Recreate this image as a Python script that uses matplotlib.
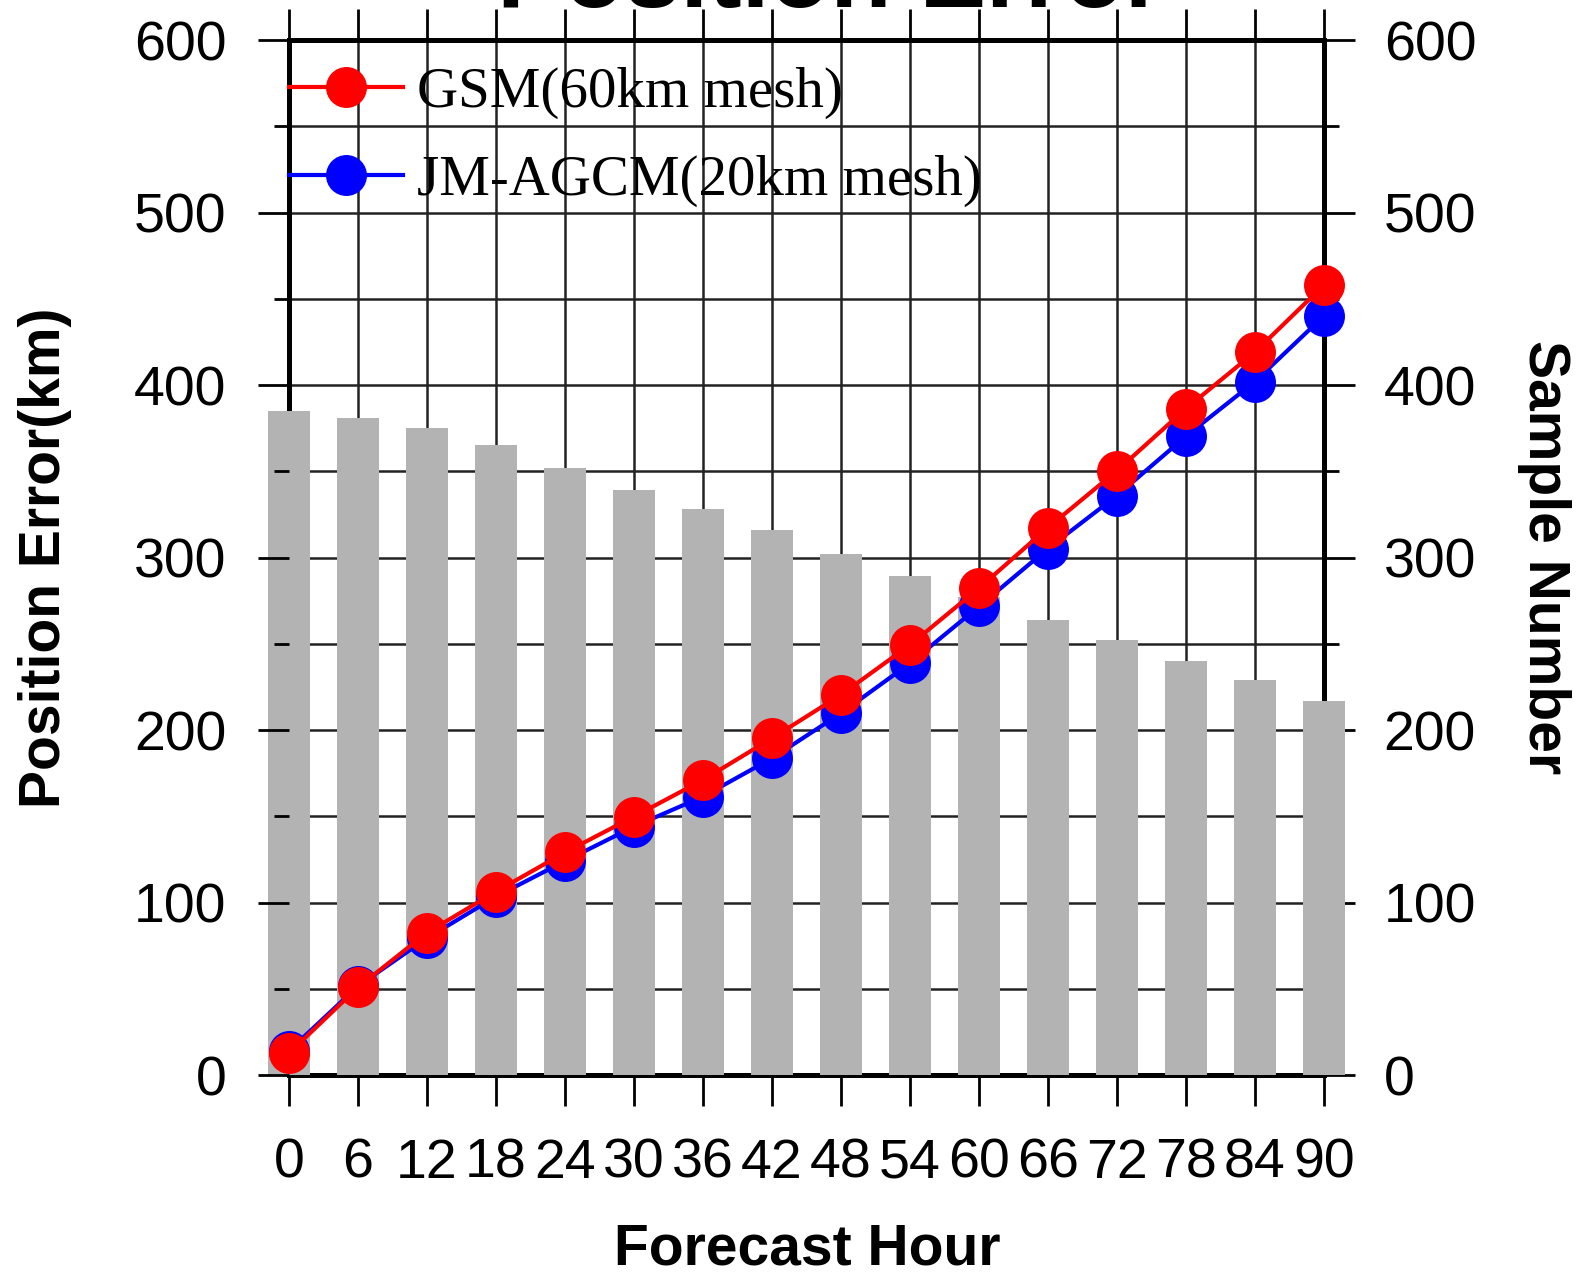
import matplotlib
matplotlib.use("Agg")
import matplotlib.pyplot as plt
from matplotlib.font_manager import FontProperties

# forecast hours on the x axis
hours = [0, 6, 12, 18, 24, 30, 36, 42, 48, 54, 60, 66, 72, 78, 84, 90]

# position error (km)
gsm_err = [12.6, 50.8, 82.5, 106.3, 129.0, 149.8, 171.0, 195.2,
           220.4, 249.3, 282.2, 317.3, 350.3, 386.3, 419.1, 457.9]
agcm_err = [14.0, 51.5, 79.3, 103.4, 124.0, 144.0, 161.4, 183.6,
            209.7, 238.7, 271.6, 305.2, 335.9, 370.3, 402.0, 440.1]

# sample number (right axis, grey bars)
samples = [385, 381, 375, 365, 352, 339, 328, 316,
           302, 289, 277, 264, 252, 240, 229, 217]

labels = ["GSM(60km mesh)", "JM-AGCM(20km mesh)"]

plt.rcParams["font.family"] = "Liberation Sans"

fig = plt.figure(figsize=(15.78, 12.74), dpi=100)
ax = fig.add_axes([0.1831, 0.1562, 0.6559, 0.8124])
ax2 = ax.twinx()
ax.set_zorder(ax2.get_zorder() + 1)
ax.patch.set_visible(False)

# ── bars + grid + frame live on the right-hand axes ──────────────────────────
ax2.xaxis.set_visible(True)
ax2.set_axisbelow(True)
ax2.bar(hours, samples, width=3.6, color="#b3b3b3", zorder=3, clip_on=False)
ax2.grid(True, which="major", color="#222222", linewidth=1.8)
ax2.set_yticks(range(0, 601, 100))
ax2.set_yticks(range(50, 600, 100), minor=True)
ax2.grid(True, which="minor", axis="y", color="#222222", linewidth=1.8)
ax2.tick_params(axis="x", which="both", bottom=False, top=False,
                labelbottom=False, labeltop=False)
ax2.tick_params(axis="y", which="major", direction="out", length=22, width=2,
                labelsize=40, pad=21)
ax2.tick_params(axis="y", which="minor", direction="out", length=11, width=2)
for sp in ax2.spines.values():
    sp.set_linewidth(3.6)
    sp.set_color("black")
ax2.set_ylim(0, 600)

# ── error curves on the left axes ────────────────────────────────────────────
line_b, = ax.plot(hours, agcm_err, color="blue", lw=3, marker="o", ms=29.5,
                  mew=0, zorder=4, clip_on=False, label=labels[1])
line_r, = ax.plot(hours, gsm_err, color="red", lw=3, marker="o", ms=29.5,
                  mew=0, zorder=5, clip_on=False, label=labels[0])

ax.set_xlim(0, 90)
ax.set_ylim(0, 600)
ax.set_xticks(hours)
ax.set_yticks(range(0, 601, 100))
ax.set_yticks(range(50, 600, 100), minor=True)
ax.tick_params(axis="x", which="major", direction="out", length=22, width=2,
               top=True, bottom=True, labelsize=40, pad=23)
ax.tick_params(axis="y", which="major", direction="out", length=22, width=2,
               labelsize=40, pad=23)
ax.tick_params(axis="y", which="minor", direction="out", length=11, width=2)
for sp in ax.spines.values():
    sp.set_visible(False)

ax.legend(handles=[line_r, line_b], loc="upper left",
          bbox_to_anchor=(0, 1 - 27 / 1035), frameon=False,
          borderaxespad=0, borderpad=0, handlelength=2.0, handletextpad=0.25,
          labelspacing=0.62, numpoints=1,
          prop=FontProperties(family="Liberation Serif", size=41))

ax.set_xlabel("Forecast Hour", fontsize=41, fontweight="bold", va="center")
ax.xaxis.set_label_coords(0.5005, -0.169)
ax.set_ylabel("Position Error(km)", fontsize=41, fontweight="bold", va="center")
ax.yaxis.set_label_coords(-0.236, 0.5)
ax2.set_ylabel("Sample Number", fontsize=41, fontweight="bold",
               rotation=270, va="center")
ax2.yaxis.set_label_coords(1.213, 0.5)

# title sits mostly above the canvas, as in the source figure
fig.text(0.526, 0.9945, "Position Error", ha="center", va="baseline",
         fontsize=72, fontweight="bold")

fig.savefig("out.png", dpi=100)
